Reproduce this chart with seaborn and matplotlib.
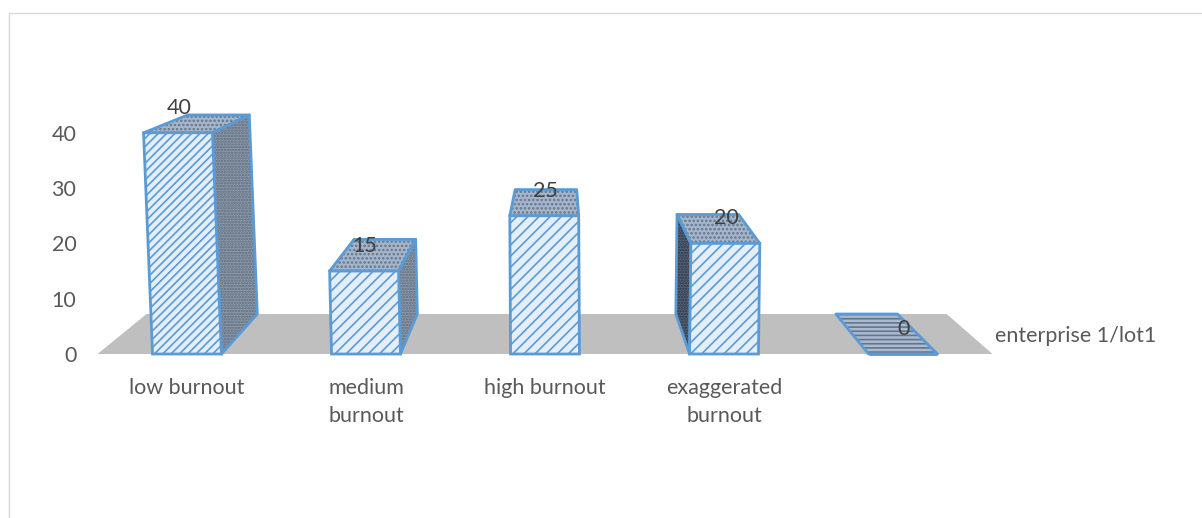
import matplotlib
matplotlib.use("Agg")
import matplotlib.pyplot as plt
from matplotlib.lines import Line2D
from matplotlib.patches import Polygon
from matplotlib.transforms import Affine2D
import pandas as pd
import seaborn as sns

categories = ["low burnout", "medium\nburnout", "high burnout", "exaggerated\nburnout", " "]
values = [40, 15, 25, 20, 0]
series_name = "enterprise 1/lot1"
y_ticks = [0, 10, 20, 30, 40]

W, H = 1202, 518
BLUE = "#5b9bd5"
GREY_TEXT = "#595959"
LABEL_TEXT = "#404040"
FS = 15.5

sns.set_theme(style="white")
plt.rcParams["font.family"] = ["Lato", "DejaVu Sans"]
plt.rcParams["hatch.linewidth"] = 1.2

fig = plt.figure(figsize=(W / 100, H / 100), dpi=100, facecolor="white")
ax = fig.add_axes([100 / W, 1 - 354 / H, 890 / W, 248.85 / H])
ax.set_facecolor("none")

df = pd.DataFrame({"category": categories, "value": values})
BAR_W = 0.385
sns.barplot(data=df, x="category", y="value", ax=ax, width=BAR_W, color="#e3eef9",
            saturation=1, edgecolor=BLUE, linewidth=2, hatch="///", zorder=3)
ax.patches[0].set_hatch("////")
ax.set_xlim(-0.486, 4.486)
ax.set_ylim(0, 45)
ax.set_xlabel("")
ax.set_ylabel("")
sns.despine(ax=ax, left=True, bottom=True)
ax.set_yticks(y_ticks)
ax.tick_params(axis="y", length=0, pad=17, labelsize=FS, labelcolor=GREY_TEXT)
ax.tick_params(axis="x", length=0, pad=17, labelsize=FS, labelcolor=GREY_TEXT)
for t in ax.get_xticklabels():
    t.set_linespacing(1.55)

# Simple 3-D projection of the category/value scales
LEAN_AT = 2.307
LEAN = 0.000545
VANISH = 2.084
SHRINK_X = 0.106
SHRINK_Y = 0.10
RISE = 7.23


def lean(centre):
    return LEAN * (centre - LEAN_AT)


def project(x, v, d, centre):
    xl = x + lean(centre) * v
    return VANISH + (1 - SHRINK_X * d) * (xl - VANISH), v * (1 - SHRINK_Y * d) + RISE * d


def face(points, centre, colour, dots, hatch, z):
    xy = [project(x, v, d, centre) for x, v, d in points]
    ax.add_patch(Polygon(xy, closed=True, facecolor=colour, edgecolor=dots, hatch=hatch,
                         linewidth=0, zorder=z, clip_on=False))
    ax.add_patch(Polygon(xy, closed=True, facecolor="none", edgecolor=BLUE, linewidth=2,
                         zorder=z + 0.1, clip_on=False, joinstyle="round"))


# Floor
ax.add_patch(Polygon([project(-0.5, 0, 0, LEAN_AT), project(4.5, 0, 0, LEAN_AT),
                      project(4.5, 0, 1, LEAN_AT), project(-0.5, 0, 1, LEAN_AT)],
                     closed=True, facecolor="#bfbfbf", edgecolor="none", zorder=0.5, clip_on=False))

for bar, val in zip(ax.patches, values):
    x0 = bar.get_x()
    x1 = x0 + bar.get_width()
    c = x0 + bar.get_width() / 2
    bar.set_clip_on(False)
    bar.set_transform(Affine2D.from_values(1, 0, lean(c), 1, 0, 0) + ax.transData)
    top = [(x0, val, 0), (x1, val, 0), (x1, val, 1), (x0, val, 1)]
    if val > 0:
        face(top, c, "#a3b6cb", "#66758a", "....", 2)
    else:
        face(top, c, "#a9bbd0", "#66758a", "----", 2)
    if val > 0 and project(x1, 0, 1, c)[0] > project(x1, 0, 0, c)[0]:
        face([(x1, 0, 0), (x1, val, 0), (x1, val, 1), (x1, 0, 1)], c, "#8c9bad", "#5f6b7a", "......", 2)
    if val > 0 and project(x0, 0, 1, c)[0] < project(x0, 0, 0, c)[0]:
        face([(x0, 0, 0), (x0, val, 0), (x0, val, 1), (x0, 0, 1)], c, "#566579", "#2c3644", "......", 2)
    ax.annotate(str(val), (c + lean(c) * val, val), xytext=(1, 25), textcoords="offset pixels",
                ha="center", va="center", fontsize=FS, color=LABEL_TEXT, zorder=5,
                annotation_clip=False)

fig.text(995 / W, 1 - 336 / H, series_name, ha="left", va="center", fontsize=FS, color=GREY_TEXT)

# Chart-area frame
frame = "#d9d9d9"
fig.add_artist(Line2D([9 / W, 1], [1 - 13 / H, 1 - 13 / H], color=frame, lw=1))
fig.add_artist(Line2D([9 / W, 9 / W], [1 - 13 / H, 0], color=frame, lw=1))

fig.savefig("out.png", dpi=100)
